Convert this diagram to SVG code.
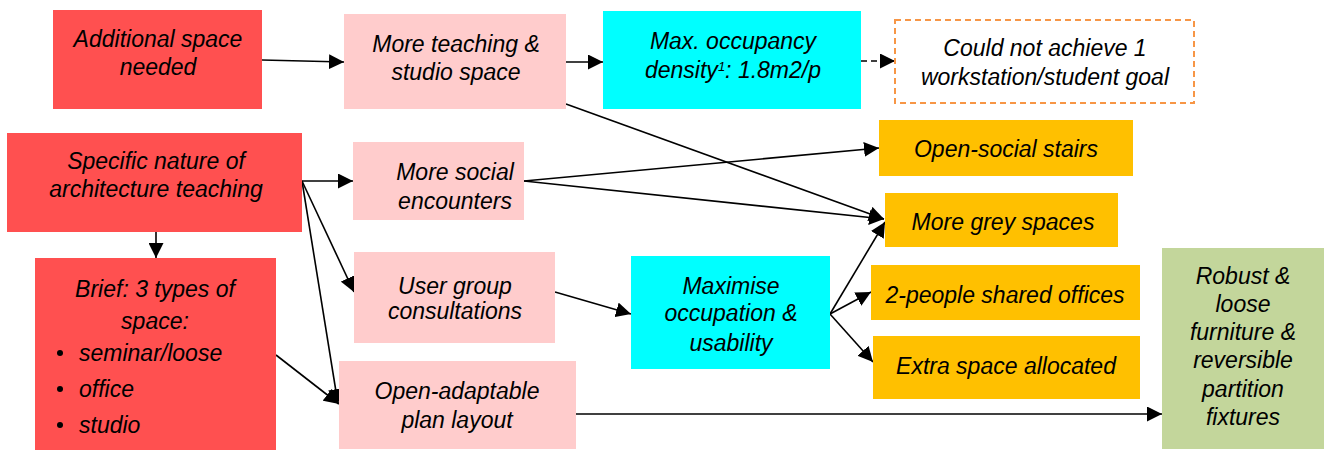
<svg xmlns="http://www.w3.org/2000/svg" width="1326" height="450" viewBox="0 0 1326 450">
  <style>
    text { font-family: "Liberation Sans", Arial, sans-serif; font-style: italic; font-size: 23px; fill: #000; text-anchor: middle; }
    .red { fill: #FF5050; }
    .pink { fill: #FFCCCC; }
    .cyan { fill: #00FFFF; }
    .amber { fill: #FFC000; }
    .green { fill: #C3D69B; }
    .dash { fill: #FFFFFF; stroke: #F79646; stroke-width: 2; stroke-dasharray: 6 4; }
    .link { stroke: #000; stroke-width: 1.6; fill: none; marker-end: url(#arrow); }
    .dashed { stroke-dasharray: 6 4; }
    .left { text-anchor: start; }
  </style>
  <defs>
    <marker id="arrow" viewBox="0 0 10 10" refX="10" refY="5" markerWidth="15" markerHeight="15" markerUnits="userSpaceOnUse" orient="auto">
      <path d="M0,0 L10,5 L0,10 z" fill="#000"/>
    </marker>
  </defs>

  <g id="connectors">
    <line class="link" x1="262" y1="60" x2="344" y2="62"/>
    <line class="link" x1="566" y1="62" x2="603" y2="62"/>
    <line class="link dashed" x1="861" y1="61" x2="895" y2="61"/>
    <line class="link" x1="566" y1="104" x2="884" y2="219"/>
    <line class="link" x1="524" y1="181" x2="879" y2="148"/>
    <line class="link" x1="524" y1="181" x2="884" y2="219"/>
    <line class="link" x1="302" y1="181" x2="353" y2="181"/>
    <line class="link" x1="302" y1="181" x2="354" y2="292"/>
    <line class="link" x1="302" y1="181" x2="338" y2="404"/>
    <line class="link" x1="276" y1="355" x2="339" y2="404"/>
    <line class="link" x1="156" y1="232" x2="156" y2="258"/>
    <line class="link" x1="555" y1="292" x2="631" y2="314"/>
    <line class="link" x1="830" y1="314" x2="885" y2="222"/>
    <line class="link" x1="830" y1="314" x2="871" y2="292"/>
    <line class="link" x1="830" y1="314" x2="873" y2="362"/>
    <line class="link" x1="576" y1="414" x2="1162" y2="414"/>
  </g>

  <g id="additional-space">
    <rect class="red" x="53" y="10" width="209" height="99"/>
    <text x="158" y="47">Additional space</text>
    <text x="158" y="75">needed</text>
  </g>

  <g id="teaching-space">
    <rect class="pink" x="344" y="14" width="222" height="95"/>
    <text x="456" y="52">More teaching &amp;</text>
    <text x="456" y="80">studio space</text>
  </g>

  <g id="occupancy">
    <rect class="cyan" x="603" y="11" width="258" height="98"/>
    <text x="733" y="49">Max. occupancy</text>
    <text x="733" y="78">density<tspan font-size="13" dy="-7">1</tspan><tspan dy="7">: 1.8m2/p</tspan></text>
  </g>

  <g id="workstation-goal">
    <rect class="dash" x="895" y="20" width="299" height="83"/>
    <text x="1045" y="56">Could not achieve 1</text>
    <text x="1045" y="85">workstation/student goal</text>
  </g>

  <g id="specific-nature">
    <rect class="red" x="7" y="133" width="295" height="99"/>
    <text x="156" y="169">Specific nature of</text>
    <text x="156" y="197">architecture teaching</text>
  </g>

  <g id="social-encounters">
    <rect class="pink" x="353" y="142" width="171" height="78"/>
    <text x="455" y="180">More social</text>
    <text x="455" y="209">encounters</text>
  </g>

  <g id="brief">
    <rect class="red" x="35" y="258" width="241" height="192"/>
    <text x="155" y="297">Brief: 3 types of</text>
    <text x="155" y="329">space:</text>
    <circle cx="60" cy="353" r="3"/>
    <text class="left" x="79" y="361">seminar/loose</text>
    <circle cx="60" cy="389" r="3"/>
    <text class="left" x="79" y="397">office</text>
    <circle cx="60" cy="425" r="3"/>
    <text class="left" x="79" y="433">studio</text>
  </g>

  <g id="user-group">
    <rect class="pink" x="354" y="252" width="201" height="91"/>
    <text x="455" y="294">User group</text>
    <text x="455" y="319">consultations</text>
  </g>

  <g id="open-plan">
    <rect class="pink" x="339" y="361" width="237" height="88"/>
    <text x="457" y="399">Open-adaptable</text>
    <text x="457" y="428">plan layout</text>
  </g>

  <g id="maximise">
    <rect class="cyan" x="631" y="256" width="199" height="113"/>
    <text x="731" y="294">Maximise</text>
    <text x="731" y="321">occupation &amp;</text>
    <text x="731" y="351">usability</text>
  </g>

  <g id="social-stairs">
    <rect class="amber" x="879" y="120" width="254" height="56"/>
    <text x="1006" y="157">Open-social stairs</text>
  </g>

  <g id="grey-spaces">
    <rect class="amber" x="885" y="193" width="233" height="54"/>
    <text x="1003" y="230">More grey spaces</text>
  </g>

  <g id="shared-offices">
    <rect class="amber" x="871" y="265" width="269" height="55"/>
    <text x="1005" y="303">2-people shared offices</text>
  </g>

  <g id="extra-space">
    <rect class="amber" x="873" y="336" width="267" height="63"/>
    <text x="1006" y="374">Extra space allocated</text>
  </g>

  <g id="robust-furniture">
    <rect class="green" x="1162" y="248" width="162" height="201"/>
    <text x="1243" y="284">Robust &amp;</text>
    <text x="1243" y="312">loose</text>
    <text x="1243" y="340">furniture &amp;</text>
    <text x="1243" y="368">reversible</text>
    <text x="1243" y="397">partition</text>
    <text x="1243" y="425">fixtures</text>
  </g>
</svg>
